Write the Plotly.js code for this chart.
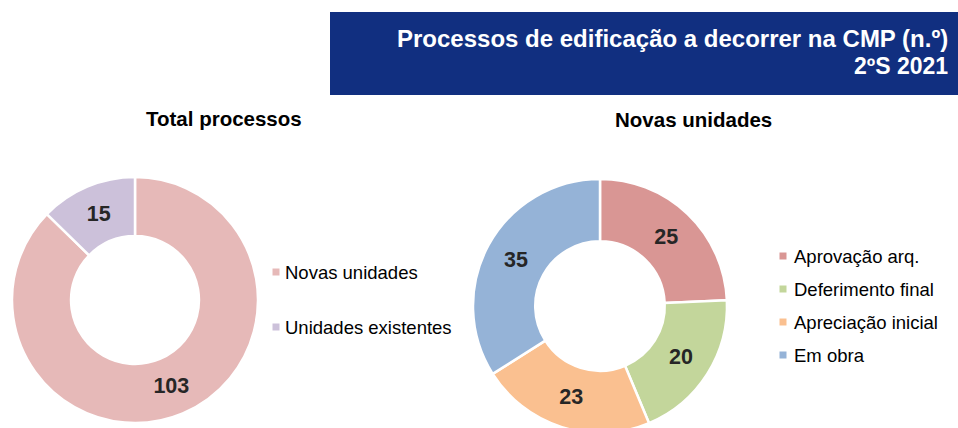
<!DOCTYPE html>
<html>
<head>
<meta charset="utf-8">
<script src="https://cdn.plot.ly/plotly-3.0.1.min.js"></script>
<style>
html, body { margin: 0; padding: 0; overflow: hidden; background: #fff; }
#chart { width: 958px; height: 440px; }
</style>
</head>
<body>
<div id="chart"></div>
<script>
// ---- data ----
const totalLabels = ["Novas unidades", "Unidades existentes"];
const totalValues = [103, 15];
const totalColors = ["#E6B9B8", "#CCC1DA"];

const novasLabels = ["Aprovação arq.", "Deferimento final", "Apreciação inicial", "Em obra"];
const novasValues = [25, 20, 23, 35];
const novasColors = ["#D99694", "#C3D69B", "#FAC090", "#95B3D7"];

const chartTitle = ["Processos de edificação a decorrer na CMP (n.º)", "2ºS 2021"];
const subTitles = ["Total processos", "Novas unidades"];

// ---- layout helpers ----
const W = 958, H = 440;
const px = x => x / W;
const py = y => 1 - y / H;
const FONT = "Liberation Sans, Arial, sans-serif";

const valueFont = { family: FONT, size: 21.5, color: "#262626", weight: "bold" };

const traces = [
  {
    type: "pie",
    labels: totalLabels,
    values: totalValues,
    marker: { colors: totalColors, line: { color: "#ffffff", width: 2.5 } },
    hole: 0.52,
    sort: false,
    direction: "clockwise",
    rotation: 0,
    textinfo: "value",
    textposition: "inside",
    insidetextorientation: "horizontal",
    textfont: valueFont,
    showlegend: false,
    domain: { x: [px(12), px(258)], y: [py(423), py(177)] }
  },
  {
    type: "pie",
    labels: novasLabels,
    values: novasValues,
    marker: { colors: novasColors, line: { color: "#ffffff", width: 2.5 } },
    hole: 0.51,
    sort: false,
    direction: "clockwise",
    rotation: 0,
    textinfo: "value",
    textposition: "inside",
    insidetextorientation: "horizontal",
    textfont: valueFont,
    showlegend: false,
    domain: { x: [px(473), px(727)], y: [py(433), py(179)] }
  }
];

const shapes = [
  { type: "rect", xref: "paper", yref: "paper",
    x0: px(330), x1: px(958), y0: py(95), y1: py(12),
    fillcolor: "#112F80", line: { width: 0 }, layer: "below" }
];
const annotations = [];

// title
annotations.push({ xref: "paper", yref: "paper", x: px(950), y: py(39), xanchor: "right", yanchor: "middle",
  text: chartTitle[0], showarrow: false, font: { family: FONT, size: 24, color: "#ffffff", weight: "bold" } });
annotations.push({ xref: "paper", yref: "paper", x: px(950), y: py(66), xanchor: "right", yanchor: "middle",
  text: chartTitle[1], showarrow: false, font: { family: FONT, size: 23, color: "#ffffff", weight: "bold" } });

// subtitles
[[224, 118], [693, 119]].forEach((p, i) => {
  annotations.push({ xref: "paper", yref: "paper", x: px(p[0]), y: py(p[1]), xanchor: "center", yanchor: "middle",
    text: subTitles[i], showarrow: false, font: { family: FONT, size: 20.5, color: "#000000", weight: "bold" } });
});

// legends
function addLegend(labels, colors, mx, tx, y0, dy) {
  labels.forEach((lab, i) => {
    const y = y0 + i * dy;
    shapes.push({ type: "rect", xref: "paper", yref: "paper",
      x0: px(mx - 3.5), x1: px(mx + 3.5), y0: py(y + 3.5), y1: py(y - 3.5),
      fillcolor: colors[i], line: { width: 0 } });
    annotations.push({ xref: "paper", yref: "paper", x: px(tx), y: py(y), xanchor: "left", yanchor: "middle",
      text: lab, showarrow: false, font: { family: FONT, size: 18.5, color: "#000000" } });
  });
}
addLegend(totalLabels, totalColors, 276, 283, 272, 55);
addLegend(novasLabels, novasColors, 783, 792, 256, 33);

const layout = {
  width: W, height: H,
  margin: { l: 0, r: 0, t: 0, b: 0 },
  paper_bgcolor: "#ffffff",
  plot_bgcolor: "#ffffff",
  showlegend: false,
  shapes: shapes,
  annotations: annotations,
  font: { family: FONT }
};

Plotly.newPlot("chart", traces, layout, { displayModeBar: false, staticPlot: true });
</script>
</body>
</html>
